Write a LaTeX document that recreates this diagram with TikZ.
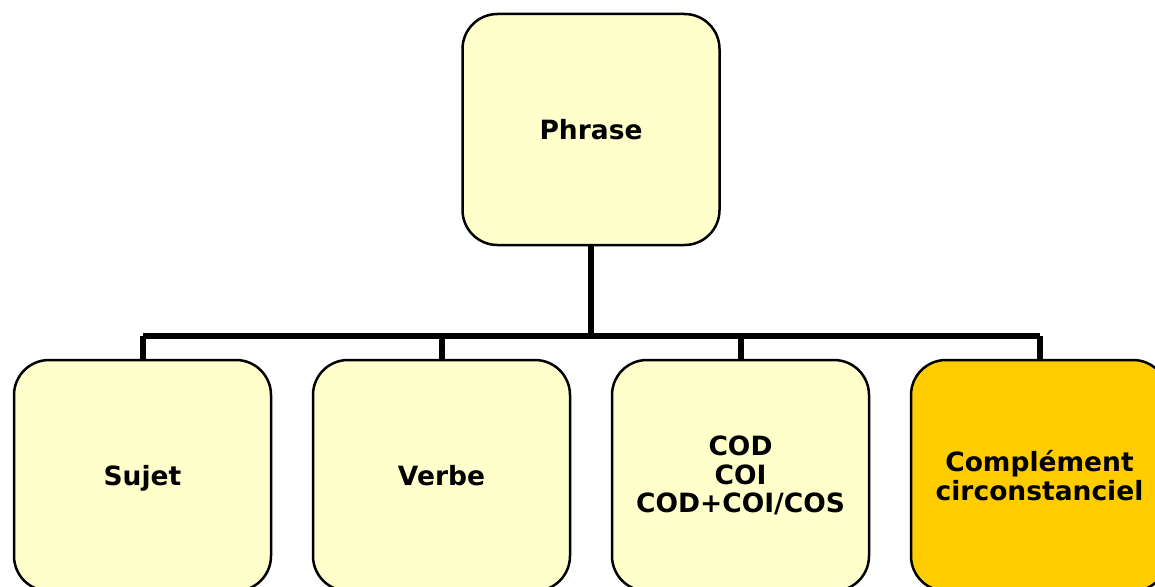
\documentclass[tikz,border=0pt]{standalone}
\usepackage{fontspec}
\setmainfont{DejaVu Sans}
\definecolor{paleyellow}{HTML}{FFFFCC}
\definecolor{gold}{HTML}{FFCC00}
\begin{document}
\begin{tikzpicture}[x=1pt,y=-1pt,
  boxstyle/.style={draw=black, line width=2.5pt, rounded corners=35pt, fill=paleyellow,
    minimum width=257pt, minimum height=231pt, inner sep=0pt, align=center,
    font=\fontsize{26.5}{28.5}\selectfont\bfseries},
  oneline/.style={text height=19pt, text depth=0pt},
  linkstyle/.style={draw=black, line width=6pt}]
\useasboundingbox (0,0) rectangle (1155,586);
\clip (0,0) rectangle (1155,586);
\coordinate (hub) at (591,336);
\draw[linkstyle] (143,336) -- (1040,336);
\node[boxstyle, oneline] (phrase) at (591,129.5) {Phrase};
\node[boxstyle, oneline] (sujet) at (142.5,475.5) {Sujet};
\node[boxstyle, oneline] (verbe) at (441.5,475.5) {Verbe};
\node[boxstyle] (cod) at (740.5,475.5) {COD\\COI\\COD+COI/COS};
\node[boxstyle, fill=gold] (cc) at (1039.5,475.5) {Complément\\circonstanciel};
\draw[linkstyle] (phrase.south) -- (hub);
\draw[linkstyle] (sujet.north) -- (sujet.north |- hub);
\draw[linkstyle] (verbe.north) -- (verbe.north |- hub);
\draw[linkstyle] (cod.north) -- (cod.north |- hub);
\draw[linkstyle] (cc.north) -- (cc.north |- hub);
\end{tikzpicture}
\end{document}
